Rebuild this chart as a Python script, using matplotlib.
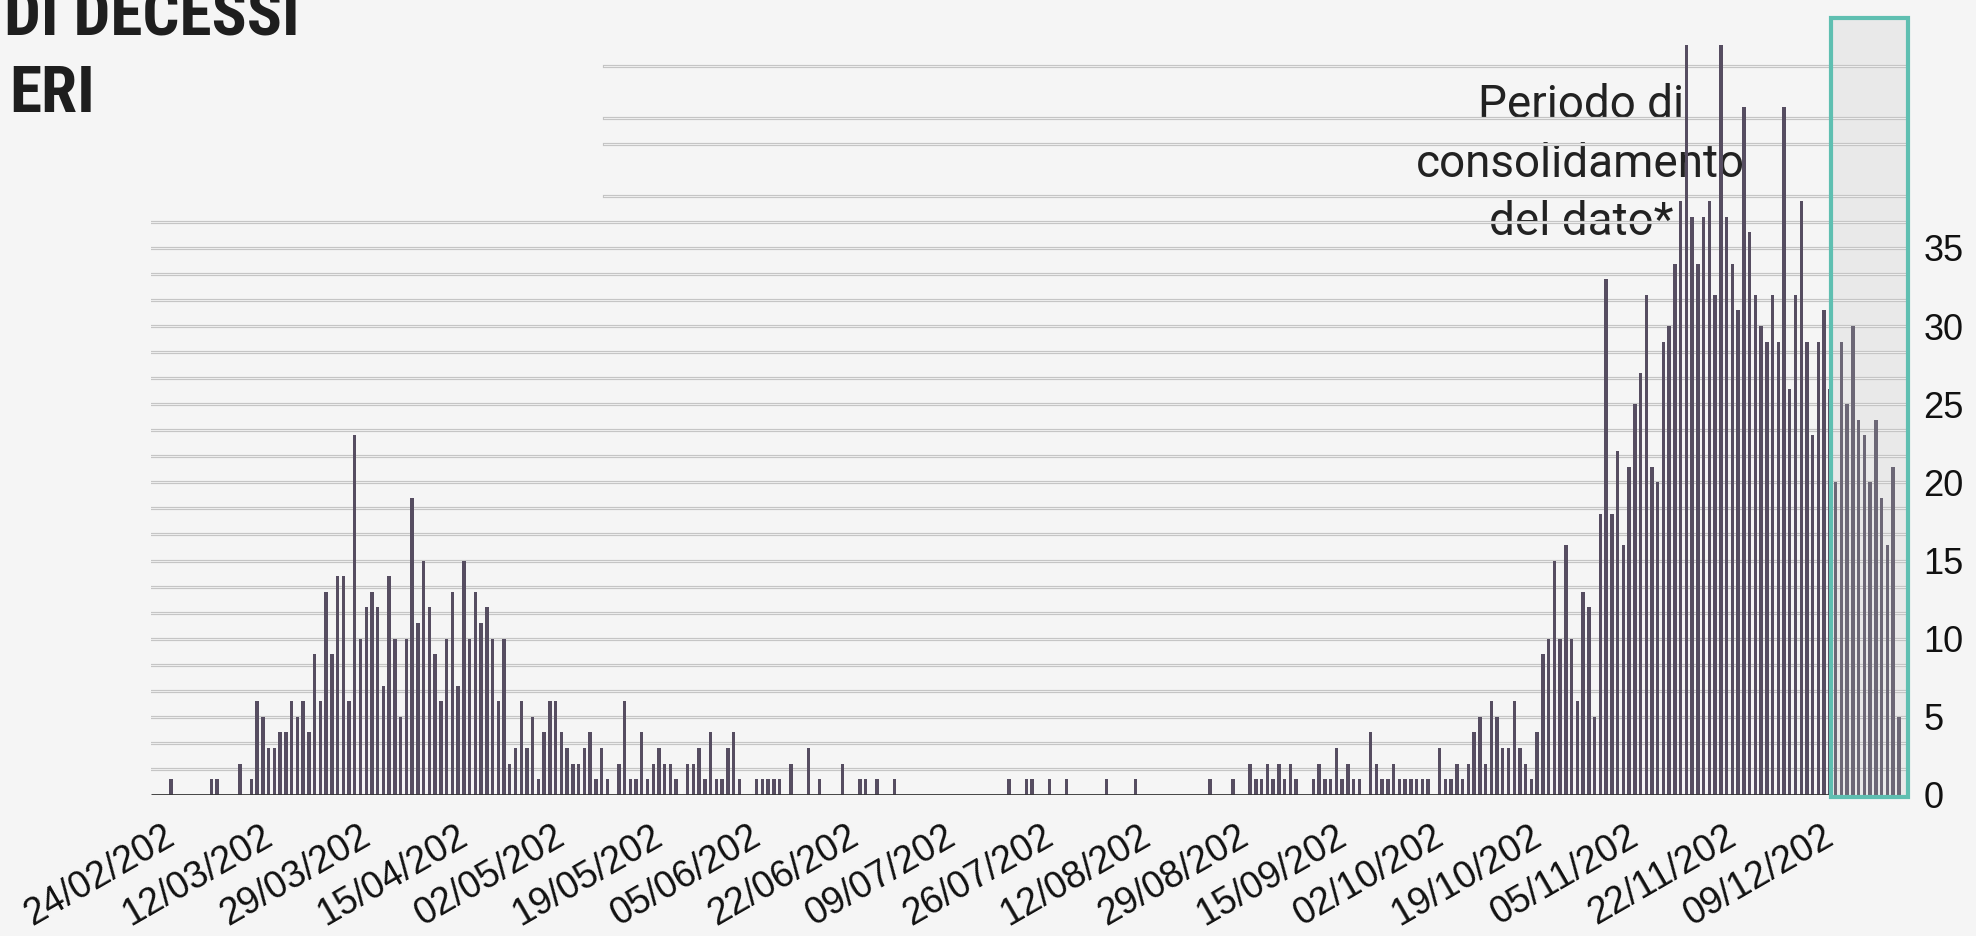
import numpy as np
import pandas as pd
import matplotlib
matplotlib.use("Agg")
import matplotlib.pyplot as plt
import matplotlib.transforms as mtransforms
from matplotlib.patches import Rectangle

# daily deaths, one value per day from start_date
start_date = "2020-02-24"
consolidation_start = "2020-12-10"
deaths = [
    1, 0, 0, 0, 0, 0, 0, 1, 1, 0, 0, 0, 2, 0, 1,
    6, 5, 3, 3, 4, 4, 6, 5, 6, 4, 9, 6, 13, 9, 14, 14, 6, 23, 10, 12,
    13, 12, 7, 14, 10, 5, 10, 19, 11, 15, 12, 9, 6, 10, 13, 7, 15, 10, 13, 11,
    12, 10, 6, 10, 2, 3, 6, 3, 5, 1, 4, 6, 6,
    4, 3, 2, 2, 3, 4, 1, 3, 1, 0, 2, 6, 1, 1, 4, 1, 2, 3, 2, 2,
    1, 0, 2, 2, 3, 1, 4, 1, 1, 3, 4, 1,
    0, 0, 1, 1, 1, 1, 1, 0, 2, 0, 0, 3, 0, 1, 0, 0, 0, 2, 0, 0,
    1, 1, 0, 1, 0, 0, 1, 0, 0, 0,
    0, 0, 0, 0, 0, 0, 0, 0, 0, 0,
    0, 0, 0, 0, 0, 0, 1, 0, 0, 1,
    1, 0, 0, 1, 0, 0, 1, 0, 0, 0,
    0, 0, 0, 1, 0, 0, 0, 0, 1, 0,
    0, 0, 0, 0, 0, 0, 0, 0, 0, 0,
    0, 1, 0, 0, 0, 1, 0, 0,
    2, 1, 1, 2, 1, 2, 1, 2, 1, 0, 0, 1,
    2, 1, 1, 3, 1, 2, 1, 1, 0, 4,
    2, 1, 1, 2, 1, 1, 1, 1, 1, 1,
    0, 3, 1, 1, 2, 1, 2, 4, 5, 2,
    6, 5, 3, 3, 6, 3, 2, 1, 4, 9,
    10, 15, 10, 16, 10, 6, 13, 12, 5, 18,
    33, 18, 22, 16, 21, 25, 27, 32, 21, 20,
    29, 30, 34, 38, 48, 37, 34, 37, 38, 32,
    48, 37, 34, 31, 44, 36, 32, 30, 29, 32,
    29, 44, 26, 32, 38, 29, 23, 29, 31, 26,
    20, 29, 25, 30, 24, 23, 20, 24, 19, 16, 21, 5,
]
tick_labels = ["24/02/202", "12/03/202", "29/03/202", "15/04/202", "02/05/202",
               "19/05/202", "05/06/202", "22/06/202", "09/07/202", "26/07/202",
               "12/08/202", "29/08/202", "15/09/202", "02/10/202", "19/10/202",
               "05/11/202", "22/11/202", "09/12/202"]
y_ticks = [0, 5, 10, 15, 20, 25, 30, 35]
title_lines = ["DI DECESSI", "ERI"]
note = "Periodo di\nconsolidamento\ndel dato*"

bg = "#f5f5f5"
bar_col = "#564d61"
bar_col_light = "#6c6776"
teal = "#5fbfb1"
W, H = 1976, 936
title_font = ["Roboto Condensed", "Liberation Sans Narrow", "Lato", "DejaVu Sans"]
tick_font = ["Liberation Sans", "DejaVu Sans"]

t0 = pd.Timestamp(start_date)
days = np.arange(len(deaths))
cons_day = (pd.Timestamp(consolidation_start) - t0).days
tick_days = [(pd.to_datetime(t + "0", format="%d/%m/%Y") - t0).days for t in tick_labels]

fig = plt.figure(figsize=(W / 100, H / 100), dpi=100, facecolor=bg)
ax = fig.add_axes([151 / W, 141 / H, 1757 / W, 795 / H])
ax.set_facecolor("none")
x_left, x_right = -3.5, 302.6
ax.set_xlim(x_left, x_right)
ax.set_ylim(0, 50.86)

# odd double grid lines of the original
step = 5 / 3
for k in range(1, 23):
    ax.axhline(k * step, color="#c3c3c3", lw=2.3, zorder=1)
    ax.axhline(k * step, color="#ececec", lw=0.8, zorder=1.1)
for k in [23, 25, 26, 28]:
    ax.axhline(k * step, xmin=0.258, color="#c3c3c3", lw=2.3, zorder=1)
    ax.axhline(k * step, xmin=0.258, color="#ececec", lw=0.8, zorder=1.1)

box_x = cons_day - 0.8
ax.add_patch(Rectangle((box_x, -0.15), x_right - box_x, 49.85, facecolor="#e9e9e9",
                       edgecolor="none", zorder=0.5, clip_on=False))

colors = [bar_col_light if d >= cons_day else bar_col for d in days]
ax.bar(days, deaths, width=0.6, color=colors, linewidth=0, zorder=2)
ax.plot([x_left, box_x], [0, 0], color="#353535", lw=2, zorder=3,
        solid_capstyle="butt")

ax.add_patch(Rectangle((box_x, -0.15), x_right - box_x, 49.85, facecolor="none",
                       edgecolor=teal, lw=3, zorder=4, clip_on=False))

ax.text(245.6, 40.4, note, ha="center", va="center", fontsize=33,
        family=["Roboto", "DejaVu Sans"], weight="normal", color="#222222",
        linespacing=1.42, zorder=0.8)

for s in ax.spines.values():
    s.set_visible(False)
ax.yaxis.tick_right()
ax.set_yticks(y_ticks)
ax.set_yticklabels([str(v) for v in y_ticks], family=tick_font, fontsize=26,
                   color="#111111")
ax.tick_params(axis="y", length=0, pad=11)
ax.set_xticks(tick_days)
ax.set_xticklabels(tick_labels, rotation=30, ha="right", rotation_mode="anchor",
                   family=tick_font, fontsize=27, color="#111111")
ax.tick_params(axis="x", length=0, pad=17)
shift = mtransforms.ScaledTranslation(-8 / 100, 0, fig.dpi_scale_trans)
for lbl in ax.get_xticklabels():
    lbl.set_transform(lbl.get_transform() + shift)

fig.text(300 / W, 1 - 36 / H, title_lines[0], ha="right", va="baseline", fontsize=47,
         weight="bold", family=title_font, color="#1e1e1e")
fig.text(95 / W, 1 - 112 / H, title_lines[1], ha="right", va="baseline", fontsize=47,
         weight="bold", family=title_font, color="#1e1e1e")

fig.savefig("out.png", dpi=100, facecolor=bg)
